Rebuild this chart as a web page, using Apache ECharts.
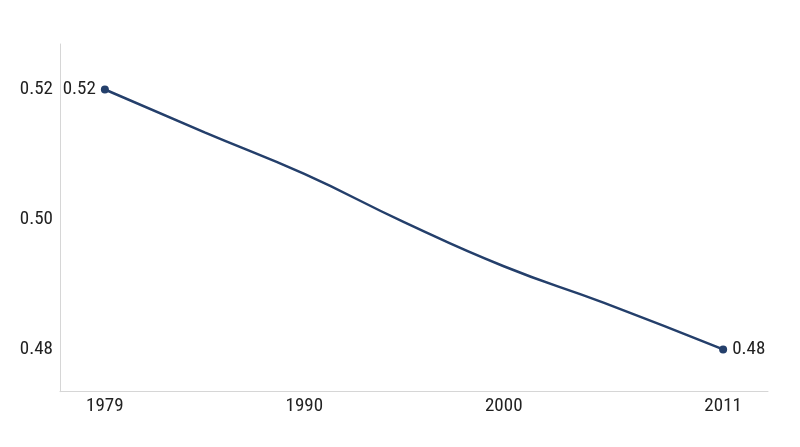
<!DOCTYPE html>
<html>
<head>
<meta charset="utf-8">
<script src="https://cdn.jsdelivr.net/npm/echarts@6/dist/echarts.min.js"></script>
<style>
html,body{margin:0;padding:0;background:#fff;}
#chart{width:800px;height:447px;}
</style>
</head>
<body>
<div id="chart"></div>
<script>
// Category positions along the x axis (evenly spaced)
const years = [1979].concat(Array.from({length: 31}, (_, i) => 1981 + i));
// Years that carry a value
const sampleYears = [1979, 1985, 1990, 1995, 2000, 2005, 2011];
const values = [0.520, 0.5134, 0.5070, 0.4996, 0.4928, 0.4872, 0.480];
// Tick labels
const xTickYears = [1979, 1990, 2000, 2011];
const yTicks = [0.48, 0.50, 0.52];

const FONT = "'Liberation Sans Narrow', 'Roboto Condensed', 'DejaVu Sans Condensed', Roboto, sans-serif";
const last = sampleYears.length - 1;
const data = sampleYears.map((y, i) => {
  const item = { value: [years.indexOf(y), values[i]] };
  if (i === 0) item.label = { show: true, position: 'left' };
  if (i === last) item.label = { show: true, position: 'right' };
  item.symbolSize = (i === 0 || i === last) ? 8 : 0;
  return item;
});

const chart = echarts.init(document.getElementById('chart'), null, { renderer: 'canvas' });
chart.setOption({
  animation: false,
  backgroundColor: '#ffffff',
  grid: { left: 60, right: 32, top: 44, bottom: 55.3 },
  xAxis: {
    type: 'value',
    min: -2.25,
    max: 33.25,
    splitLine: { show: false },
    axisTick: { show: false },
    axisLine: { show: true, onZero: false, lineStyle: { color: '#d6d6d6', width: 1 } },
    axisLabel: {
      customValues: xTickYears.map(y => years.indexOf(y)),
      formatter: v => String(years[Math.round(v)]),
      color: '#222',
      fontFamily: FONT,
      fontSize: 19,
      margin: 5
    }
  },
  yAxis: {
    type: 'value',
    min: 0.4735,
    max: 0.527,
    splitLine: { show: false },
    axisTick: { show: false },
    axisLine: { show: true, onZero: false, lineStyle: { color: '#d6d6d6', width: 1 } },
    axisLabel: {
      customValues: yTicks,
      formatter: v => v.toFixed(2),
      color: '#222',
      fontFamily: FONT,
      fontSize: 19,
      margin: 7
    }
  },
  series: [{
    type: 'line',
    data: data,
    smooth: 0.5,
    symbol: 'circle',
    showAllSymbol: true,
    lineStyle: { color: '#243f6b', width: 2.5 },
    itemStyle: { color: '#243f6b' },
    label: {
      color: '#222',
      fontFamily: FONT,
      fontSize: 19,
      distance: 5,
      formatter: p => p.value[1].toFixed(2)
    }
  }]
});
</script>
</body>
</html>
